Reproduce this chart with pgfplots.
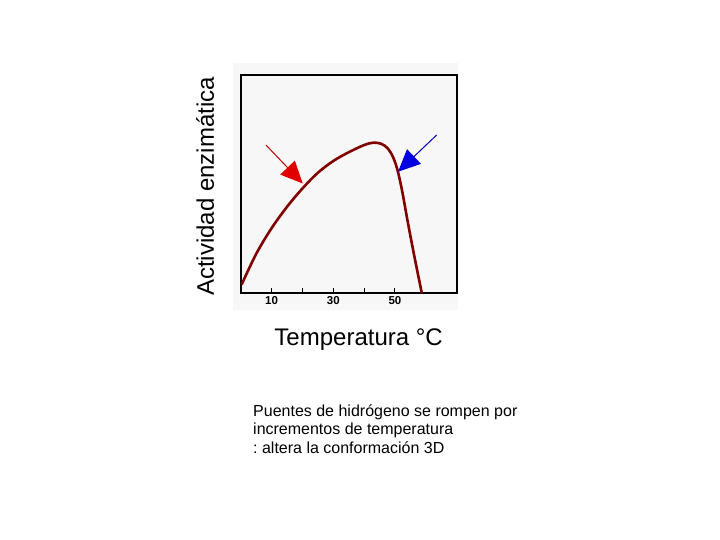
\documentclass[border=0pt]{standalone}
\usepackage{pgfplots}
\pgfplotsset{compat=1.18}
\usepackage{fontspec}
\setmainfont{Liberation Sans}
\usetikzlibrary{arrows.meta}
\definecolor{curvecol}{RGB}{128,0,0}
\definecolor{redarrow}{RGB}{225,0,0}
\definecolor{bluearrow}{RGB}{0,0,225}
\frenchspacing
\begin{document}
\begin{tikzpicture}
\path[use as bounding box] (0pt,0pt) rectangle (720pt,540pt);
\fill[black!3] (233pt,230pt) rectangle (458pt,477pt);
\begin{axis}[
  at={(240.7pt,246.7pt)}, anchor=south west,
  scale only axis, width=216pt, height=218.3pt,
  xmin=0, xmax=70, ymin=0, ymax=100,
  axis line style={line width=1.6pt},
  xtick={10,20,30,40,50}, xticklabels={10,,30,,50},
  xtick pos=left, tick align=inside,
  major tick length=5pt,
  xtick style={black, line width=1pt},
  ytick=\empty,
  tick label style={font=\fontsize{11.5}{12}\selectfont\bfseries},
  /pgf/number format/assume math mode=true,
  xlabel={Temperatura °C},
  xlabel style={at={(axis description cs:0.546,-0.237)}, anchor=base, font=\fontsize{24}{28}\selectfont},
  ylabel={Actividad enzimática},
  ylabel style={at={(axis description cs:-0.165,0.489)}, anchor=center, font=\fontsize{24}{28}\selectfont},
  clip=false,
]
\addplot[curvecol, line width=2.6pt, smooth, tension=0.55] coordinates {
 (0.3,4.0) (5,18.0) (10,29.8) (15,39.6) (20,48.0) (25,55.2)
 (30,60.6) (35,64.6) (40,67.9) (43,69.0) (45.5,68.5) (47.5,66.6)
 (49.3,62.6) (50.8,56.5) (52.3,47.0) (54.1,33.0) (56.2,17.5) (58.7,0)
};
\draw[redarrow!85!black, line width=1pt, -{Triangle[length=22pt,width=20pt,color=redarrow]}]
  (axis cs:8.2,67.9) -- (axis cs:20.1,50.3);
\draw[bluearrow!85!black, line width=1pt, -{Triangle[length=22pt,width=20pt,color=bluearrow]}]
  (axis cs:63.5,72.5) -- (axis cs:51.0,55.7);
\end{axis}
\node[anchor=base west, font=\fontsize{16}{18}\selectfont, inner sep=0pt] at (253pt,123.3pt) {Puentes de hidrógeno se rompen por};
\node[anchor=base west, font=\fontsize{16}{18}\selectfont, inner sep=0pt] at (253pt,105pt) {incrementos de temperatura};
\node[anchor=base west, font=\fontsize{16}{18}\selectfont, inner sep=0pt] at (253pt,86.7pt) {: altera la conformación 3D};
\end{tikzpicture}
\end{document}
